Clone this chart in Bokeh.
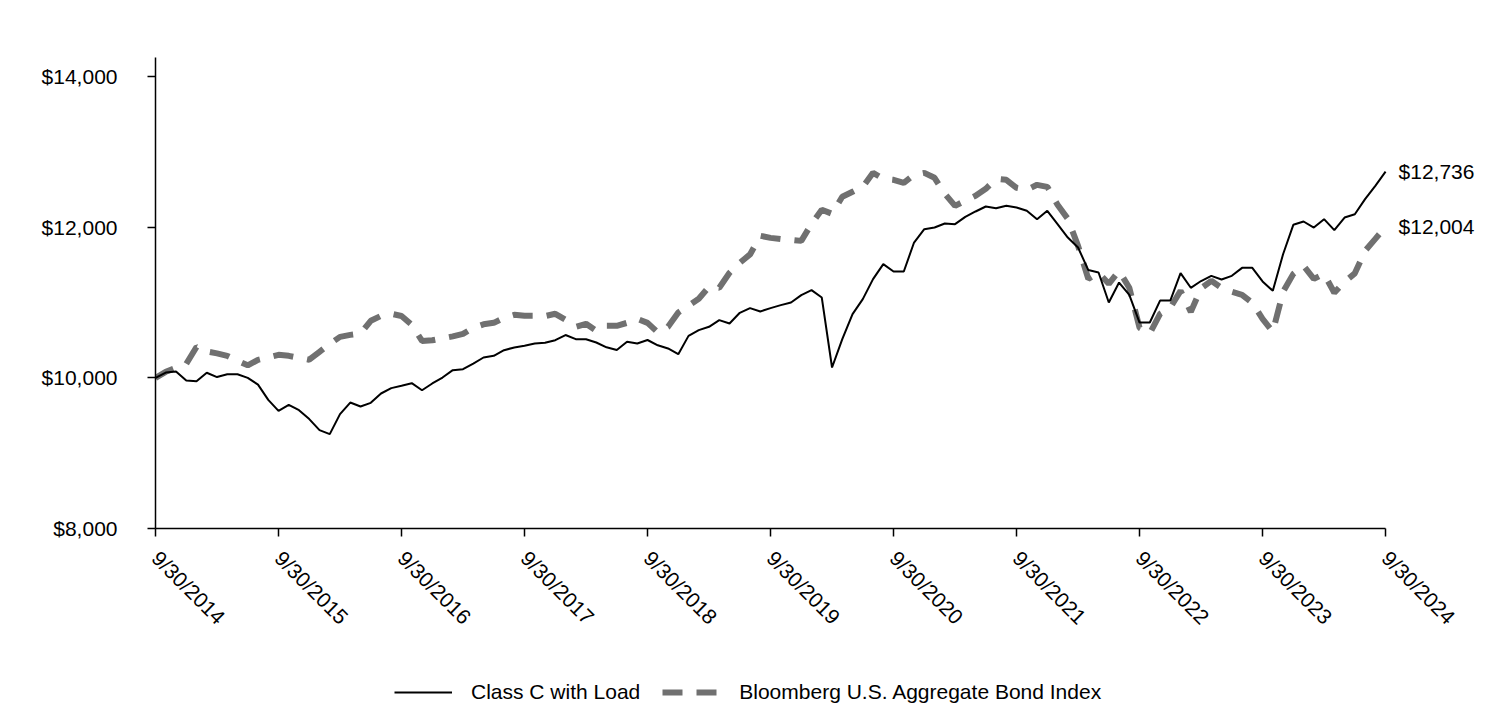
import math
from bokeh.plotting import figure
from bokeh.layouts import column
from bokeh.models import (Range1d, FixedTicker, NumeralTickFormatter, Legend,
                          LegendItem, ColumnDataSource)
from bokeh.core.properties import value
from bokeh.embed import file_html
from bokeh.resources import INLINE

# ---- data (monthly, 9/30/2014 .. 9/30/2024) ----
class_c = [
    10000, 10070, 10085, 9965, 9955, 10068, 10010, 10047, 10047, 10000,
    9910, 9708, 9562, 9642, 9571, 9452, 9306, 9253, 9518, 9672,
    9619, 9668, 9792, 9863, 9894, 9929, 9835, 9925, 10004, 10102,
    10115, 10190, 10270, 10292, 10367, 10402, 10425, 10455, 10465, 10500,
    10568, 10513, 10513, 10469, 10405, 10370, 10480, 10455, 10502, 10432,
    10390, 10314, 10557, 10633, 10677, 10766, 10721, 10863, 10925, 10881,
    10925, 10965, 11000, 11098, 11164, 11066, 10137, 10513, 10845, 11045,
    11310, 11509, 11411, 11411, 11796, 11973, 11995, 12048, 12040, 12137,
    12208, 12274, 12252, 12283, 12261, 12217, 12106, 12217, 12040, 11862,
    11730, 11430, 11398, 11000, 11265, 11100, 10734, 10734, 11025, 11025,
    11390, 11195, 11285, 11354, 11305, 11354, 11460, 11460, 11280, 11155,
    11640, 12031, 12075, 11995, 12106, 11960, 12128, 12172, 12372, 12549,
    12736,
]
bloomberg = [
    10000, 10080, 10133, 10186, 10410, 10350, 10325, 10292, 10225, 10166,
    10239, 10272, 10305, 10292, 10265, 10240, 10345, 10450, 10544, 10570,
    10588, 10757, 10823, 10850, 10820, 10704, 10490, 10498, 10524, 10550,
    10584, 10664, 10710, 10730, 10796, 10836, 10823, 10823, 10820, 10850,
    10770, 10677, 10717, 10624, 10690, 10690, 10730, 10783, 10730, 10604,
    10677, 10867, 10956, 11049, 11209, 11195, 11394, 11527, 11638, 11885,
    11858, 11841, 11832, 11818, 12044, 12230, 12177, 12403, 12469, 12535,
    12721, 12642, 12628, 12588, 12695, 12721, 12655, 12443, 12283, 12350,
    12416, 12509, 12642, 12628, 12522, 12496, 12562, 12535, 12297, 12111,
    11752, 11314, 11394, 11248, 11420, 11195, 10664, 10590, 10850, 10932,
    11155, 10876, 11188, 11288, 11195, 11142, 11102, 10995, 10783, 10611,
    11142, 11380, 11487, 11314, 11380, 11129, 11274, 11387, 11686, 11845,
    12004,
]
tick_labels = ["9/30/2014", "9/30/2015", "9/30/2016", "9/30/2017", "9/30/2018",
               "9/30/2019", "9/30/2020", "9/30/2021", "9/30/2022", "9/30/2023",
               "9/30/2024"]
y_ticks = [8000, 10000, 12000, 14000]
series_names = ["Class C with Load", "Bloomberg U.S. Aggregate Bond Index"]
end_labels = ["$12,736", "$12,004"]

months = list(range(len(class_c)))
tick_pos = [i * 12 for i in range(len(tick_labels))]

FONT = "Liberation Sans"
FS = "21px"
GRAY = "#707070"
DASH = "20 14"

p = figure(width=1512, height=640, output_backend="svg", toolbar_location=None,
           x_range=Range1d(0, 131.7), y_range=Range1d(8000, 14252),
           min_border_left=155, min_border_top=57, min_border_bottom=112,
           min_border_right=7)
p.outline_line_color = None
p.xgrid.visible = False
p.ygrid.visible = False

src = ColumnDataSource(dict(x=months, c=class_c, b=bloomberg))
p.line("x", "b", source=src, line_color=GRAY, line_width=6, line_dash=DASH)
p.line("x", "c", source=src, line_color="black", line_width=2)

# end labels
lab_src = ColumnDataSource(dict(x=[months[-1], months[-1]],
                                y=[class_c[-1], bloomberg[-1]],
                                t=end_labels))
p.text("x", "y", text="t", source=lab_src, x_offset=13, text_baseline="middle",
       text_align="left", text_font=value(FONT), text_font_size=FS,
       text_color="black")

# axes
xa = p.xaxis[0]
xa.bounds = (0, 120)
xa.ticker = FixedTicker(ticks=tick_pos)
xa.major_label_overrides = {t: l for t, l in zip(tick_pos, tick_labels)}
xa.major_label_orientation = -math.pi / 4
xa.minor_tick_line_color = None
xa.major_tick_in = 0
xa.major_tick_out = 8
xa.axis_line_color = "black"
xa.axis_line_width = 1.5
xa.major_tick_line_width = 1.5
xa.major_label_text_font = FONT
xa.major_label_text_font_size = FS
xa.major_label_text_color = "black"
xa.major_label_standoff = 18

ya = p.yaxis[0]
ya.bounds = (8000, 14252)
ya.ticker = FixedTicker(ticks=y_ticks)
ya.formatter = NumeralTickFormatter(format="$0,0")
ya.minor_tick_line_color = None
ya.major_tick_in = 0
ya.major_tick_out = 8
ya.axis_line_color = "black"
ya.axis_line_width = 1.5
ya.major_tick_line_width = 1.5
ya.major_label_text_font = FONT
ya.major_label_text_font_size = FS
ya.major_label_text_color = "black"
ya.major_label_standoff = 30

# legend strip below the chart (series lines lie outside its visible range)
leg = figure(width=1512, height=68, output_backend="svg", toolbar_location=None,
             x_range=Range1d(-10, -9), y_range=Range1d(0, 1),
             min_border=0)
leg.outline_line_color = None
leg.axis.visible = False
leg.xgrid.visible = False
leg.ygrid.visible = False
lr_c = leg.line("x", "c", source=src, line_color="black", line_width=2)
lr_b = leg.line("x", "b", source=src, line_color=GRAY, line_width=6,
                line_dash=DASH)
legend = Legend(items=[LegendItem(label=series_names[0], renderers=[lr_c]),
                       LegendItem(label=series_names[1], renderers=[lr_b])],
                orientation="horizontal", location=(239, 4),
                border_line_color=None, background_fill_alpha=0,
                padding=0, margin=0, spacing=22, glyph_width=58,
                glyph_height=24, label_height=24,
                label_standoff=19, label_text_font=FONT,
                label_text_font_size=FS, label_text_color="black",
                label_text_baseline="middle")
leg.add_layout(legend, "center")

open("out.html", "w").write(file_html(column(p, leg), INLINE))
